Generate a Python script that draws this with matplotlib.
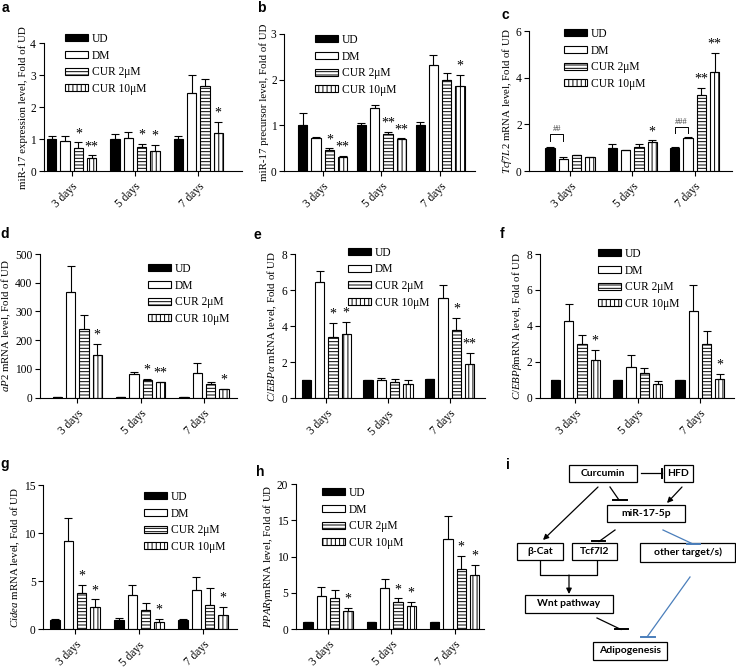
import matplotlib
matplotlib.use("Agg")
import matplotlib.pyplot as plt
import numpy as np
from matplotlib.patches import Rectangle

plt.rcParams["font.family"] = ["Liberation Serif", "DejaVu Serif"]
plt.rcParams["mathtext.fontset"] = "custom"
plt.rcParams["mathtext.rm"] = "Liberation Serif"
plt.rcParams["mathtext.it"] = "Liberation Serif:italic"
plt.rcParams["hatch.linewidth"] = 0.7

# dados (comuns)
grupos = ["3 days", "5 days", "7 days"]
series = ["UD", "DM", "CUR 2\u03bcM", "CUR 10\u03bcM"]
cores = ["black", "white", "white", "white"]
hachuras = [None, None, "-----", "||||"]

# painel a
a_media = [[1.0, 1.0, 1.0], [0.93, 1.02, 2.45], [0.73, 0.75, 2.65], [0.40, 0.63, 1.18]]
a_topo = [[1.1, 1.15, 1.1], [1.1, 1.23, 3.0], [0.9, 0.85, 2.87], [0.5, 0.83, 1.55]]
a_star = [["", "", ""], ["", "", ""], ["*", "*", ""], ["**", "*", "*"]]

# painel b
b_media = [[1.0, 1.0, 1.0], [0.72, 1.37, 2.33], [0.47, 0.80, 1.99], [0.31, 0.70, 1.86]]
b_topo = [[1.28, 1.06, 1.08], [0.74, 1.45, 2.53], [0.50, 0.86, 2.15], [0.33, 0.72, 2.10]]
b_star = [["", "", ""], ["", "", ""], ["*", "**", ""], ["**", "**", "*"]]

# painel c
c_media = [[1.0, 1.0, 1.0], [0.50, 0.88, 1.42], [0.67, 1.05, 3.27], [0.60, 1.25, 4.23]]
c_topo = [[1.03, 1.15, 1.01], [0.62, 0.92, 1.45], [0.70, 1.15, 3.57], [0.60, 1.32, 5.07]]
c_star = [["", "", ""], ["", "", ""], ["", "", "**"], ["", "*", "**"]]

# painel d
d_media = [[1.0, 1.0, 1.0], [368, 82, 87], [240, 63, 47], [148, 53, 30]]
d_topo = [[1.0, 1.0, 1.0], [458, 88, 122], [288, 66, 55], [188, 56, 32]]
d_star = [["", "", ""], ["", "", ""], ["", "*", ""], ["*", "**", "*"]]

# painel e
e_media = [[1.0, 1.0, 1.05], [6.45, 1.03, 5.57], [3.38, 0.88, 3.77], [3.60, 0.80, 1.90]]
e_topo = [[1.02, 1.02, 1.10], [7.08, 1.12, 6.28], [4.18, 1.10, 4.47], [4.23, 1.03, 2.53]]
e_star = [["", "", ""], ["", "", ""], ["*", "", "*"], ["*", "", "**"]]

# painel f
f_media = [[1.0, 1.0, 1.0], [4.27, 1.72, 4.85], [2.98, 1.35, 3.0], [2.08, 0.77, 1.05]]
f_topo = [[1.0, 1.0, 1.0], [5.2, 2.35, 6.3], [3.48, 1.63, 3.7], [2.65, 0.92, 1.33]]
f_star = [["", "", ""], ["", "", ""], ["", "", ""], ["*", "", "*"]]

# painel g
g_media = [[1.0, 1.0, 1.0], [9.2, 3.55, 4.1], [3.75, 2.0, 2.55], [2.3, 0.75, 1.45]]
g_topo = [[1.05, 1.2, 1.1], [11.6, 4.6, 5.4], [4.65, 2.7, 4.25], [3.1, 1.05, 2.35]]
g_star = [["", "", ""], ["", "", ""], ["*", "", ""], ["*", "*", "*"]]

# painel h
h_media = [[1.0, 1.0, 1.0], [4.6, 5.6, 12.4], [4.3, 3.7, 8.3], [2.55, 3.2, 7.45]]
h_topo = [[1.0, 1.0, 1.0], [5.75, 6.85, 15.6], [5.4, 4.25, 10.1], [2.95, 3.8, 8.85]]
h_star = [["", "", ""], ["", "", ""], ["", "*", "*"], ["*", "*", "*"]]

W, H = 736, 667
fig = plt.figure(figsize=(7.36, 6.67), dpi=100)


def eixo_px(esq, topo, dir, base):
    return fig.add_axes([esq / W, 1 - base / H, (dir - esq) / W, (base - topo) / H])


def painel(ret, c1, sp, media, topo, star, ymax, ypasso, ylabel, leg, letra, pos_letra):
    esq, top, dir, base = ret
    ax = eixo_px(esq, top, dir, base)
    x = np.arange(len(grupos))
    off = 13.3 / sp
    w = 9.3 / sp
    for i in range(4):
        xs = x + (i - 1.5) * off
        m = np.array(media[i])
        t = np.array(topo[i])
        ax.bar(xs, m, w, color=cores[i], edgecolor="black", hatch=hachuras[i],
               linewidth=0.8, label=series[i], zorder=2)
        ax.errorbar(xs, m, yerr=[np.zeros(3), t - m], fmt="none", ecolor="black",
                    elinewidth=0.8, capsize=3, capthick=0.8, zorder=3)
        for j in range(3):
            if star[i][j]:
                ax.text(xs[j], t[j] + ymax * 0.015, star[i][j], ha="center", va="bottom",
                        fontsize=10)
    ax.set_xlim((esq - c1) / sp, (dir - c1) / sp)
    ax.set_ylim(0, ymax)
    ax.set_yticks(np.arange(0, ymax + ypasso / 2, ypasso))
    ax.set_xticks(x)
    ax.set_xticklabels(grupos, rotation=45, ha="right", rotation_mode="anchor", fontsize=8.3)
    ax.tick_params(axis="y", labelsize=8.3, length=3.5, width=0.8, pad=2)
    ax.tick_params(axis="x", length=3.5, width=0.8)
    ax.spines["top"].set_visible(False)
    ax.spines["right"].set_visible(False)
    ax.spines["left"].set_linewidth(0.8)
    ax.spines["bottom"].set_linewidth(0.8)
    ax.set_ylabel(ylabel, fontsize=7.8, labelpad=1.5)
    ax.legend(loc="upper left", bbox_to_anchor=(leg[0] / W, 1 - (leg[1] - 6) / H),
              bbox_transform=fig.transFigure, frameon=False, handlelength=2.0,
              handleheight=0.55, labelspacing=0.4, handletextpad=0.35,
              borderaxespad=0, borderpad=0, fontsize=8.3)
    fig.text(pos_letra[0] / W, 1 - pos_letra[1] / H, letra, family="Liberation Sans",
             fontweight="bold", fontsize=10, ha="center", va="center")
    return ax


painel((43.7, 43.3, 241.7, 171), 71.7, 63.3, a_media, a_topo, a_star, 4, 1,
       "miR-17 expression level, Fold of UD", (65, 39), "a", (5, 8))
painel((284.3, 34, 475, 171), 322.7, 58.7, b_media, b_topo, b_star, 3, 1,
       "miR-17 precursor level, Fold of UD", (315, 40), "b", (261, 8))
ax_c = painel((529.3, 31, 731.7, 171), 570, 62.3, c_media, c_topo, c_star, 6, 2,
              r"$\mathit{Tcf7L2}$ mRNA level, Fold of UD", (564, 34), "c", (505, 15))
painel((40, 254, 237, 397.7), 77.3, 63.3, d_media, d_topo, d_star, 500, 100,
       r"$\mathit{aP2}$ mRNA level, Fold of UD", (148, 269), "d", (5, 234))
painel((295, 254.3, 485, 398.3), 326.3, 61.7, e_media, e_topo, e_star, 8, 2,
       r"$\mathit{C/EBP\alpha}$ mRNA level, Fold of UD", (348, 252.7), "e", (257, 235))
painel((540, 254, 734, 397.7), 575.3, 62.3, f_media, f_topo, f_star, 8, 2,
       r"$\mathit{C/EBP\beta}$mRNA level, Fold of UD", (598, 254), "f", (502, 234))
painel((43.3, 485, 236.7, 629.3), 75, 64, g_media, g_topo, g_star, 15, 5,
       r"$\mathit{Cidea}$ mRNA level, Fold of UD", (144, 497), "g", (5, 464))
painel((296, 484.3, 484, 629), 328, 63.3, h_media, h_topo, h_star, 20, 5,
       r"$\mathit{PPAR\gamma}$mRNA level, Fold of UD", (322, 493), "h", (260, 472))

# colchetes de significancia no painel c
off_c = 13.3 / 62.3
for g, alt, txt in [(0, 1.57, "##"), (2, 1.9, "###")]:
    x1 = g - 1.5 * off_c
    x2 = g - 0.5 * off_c
    ax_c.plot([x1, x1, x2, x2], [alt - 0.27, alt, alt, alt - 0.27], color="black", lw=0.7)
    ax_c.text((x1 + x2) / 2, alt + 0.05, txt, ha="center", va="bottom", fontsize=6,
              color="#444444")

# painel i: diagrama
axd = eixo_px(490, 440, 736, 667)
axd.set_xlim(490, 736)
axd.set_ylim(667, 440)
axd.axis("off")
fig.text(508 / W, 1 - 465 / H, "i", family="Liberation Sans", fontweight="bold",
         fontsize=10, ha="center", va="center")

caixas = [("Curcumin", 569, 465, 637, 482), ("HFD", 664, 465, 693, 482),
          ("miR-17-5p", 607, 505, 685, 522), ("\u03b2-Cat", 517, 543, 563, 560),
          ("Tcf7l2", 572, 543, 617, 560), ("other target/s)", 640, 543, 735, 562),
          ("Wnt pathway", 525, 595, 613, 613), ("Adipogenesis", 593, 642, 667, 660)]
for txt, x0, y0, x1, y1 in caixas:
    axd.add_patch(Rectangle((x0, y0), x1 - x0, y1 - y0, fill=False, lw=0.9, ec="black"))
    axd.text((x0 + x1) / 2, (y0 + y1) / 2, txt, ha="center", va="center", fontsize=7.5,
             fontweight="bold", family=["Lato", "DejaVu Sans"])

azul = "#4a7ebb"


def seta(p0, p1, cor="black"):
    axd.annotate("", xy=p1, xytext=p0,
                 arrowprops=dict(arrowstyle="-|>", color=cor, lw=0.9, mutation_scale=8,
                                 shrinkA=0, shrinkB=0))


def inibe(p0, p1, barra, cor="black"):
    axd.plot([p0[0], p1[0]], [p0[1], p1[1]], color=cor, lw=0.9)
    axd.plot(barra[0], barra[1], color=cor, lw=1.4)


inibe((641, 473.5), (662, 473.5), ([662, 662], [469, 478]))
seta((682, 487), (667, 503))
inibe((610, 487), (619, 500), ([613, 627], [500, 500]))
seta((598, 487), (543, 540))
inibe((615, 530), (599, 541.5), ([592, 605], [541.5, 541.5]))
inibe((663, 530), (693, 544), ([687, 700], [544, 544]), azul)
axd.plot([540, 540, 596.7, 596.7], [561, 575, 575, 561], color="black", lw=0.9)
seta((569, 575), (569, 594))
inibe((597, 618), (621, 629.5), ([615, 628], [629.5, 629.5]))
inibe((690, 577), (647, 637), ([641, 655], [637, 637]), azul)

plt.savefig("out.png", dpi=100)
